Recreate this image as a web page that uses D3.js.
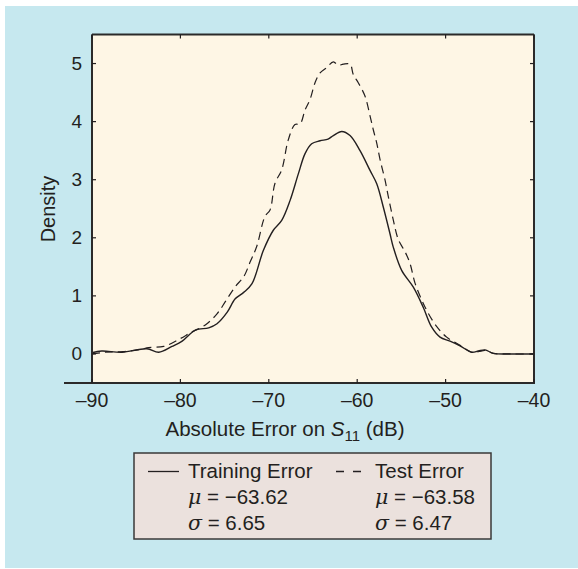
<!DOCTYPE html>
<html><head><meta charset="utf-8">
<script src="https://cdn.jsdelivr.net/npm/d3@7"></script>
<style>body{margin:0;background:#fff}svg{display:block}text{font-family:"Liberation Sans",Arial,sans-serif;fill:#231f20}</style>
</head><body>
<script>
const trainX = [-90,-88.9,-86.6,-83.8,-82.45,-80.95,-79.8,-78.3,-76.8,-75.86,-74.7,-73.8,-72.84,-71.9,-70.62,-69.49,-68.54,-67.6,-66.66,-65.9,-65.15,-64.2,-63.3,-62.7,-61.75,-60.81,-59.68,-58.55,-57.79,-57.05,-56.29,-55.92,-54.97,-53.65,-52.52,-51.57,-50.63,-49.5,-48.37,-47.05,-46.3,-45.54,-44.6,-42.7,-40];
const trainY = [0.02,0.05,0.03,0.09,0.03,0.13,0.22,0.41,0.45,0.52,0.72,0.95,1.06,1.21,1.78,2.13,2.30,2.64,3.10,3.45,3.62,3.67,3.70,3.76,3.83,3.76,3.50,3.16,2.93,2.53,2.07,1.84,1.44,1.15,0.80,0.46,0.29,0.22,0.14,0.03,0.05,0.07,0.01,0.0,0.0];
const testX = [-90,-88.5,-86.5,-84.5,-83.59,-81.89,-80.19,-78.69,-77.18,-75.86,-74.92,-73.79,-72.84,-72.09,-71.37,-70.43,-69.86,-69.3,-68.54,-67.79,-67.04,-66.47,-65.9,-65.34,-64.77,-64.2,-63.45,-62.7,-62.14,-61.57,-60.81,-60.44,-59.88,-59.12,-58.55,-58.18,-57.79,-57.42,-56.86,-56.48,-55.92,-55.35,-54.59,-54.03,-53.46,-52.7,-51.96,-51.0,-49.88,-48.37,-47.05,-46.3,-45.5,-44.6,-42.7,-40];
const testY = [0.0,0.03,0.04,0.08,0.11,0.13,0.25,0.38,0.50,0.69,0.90,1.16,1.33,1.59,1.85,2.37,2.48,2.94,3.17,3.69,3.95,3.96,4.20,4.38,4.67,4.84,4.93,5.03,4.97,4.99,4.99,4.81,4.67,4.44,4.10,3.86,3.63,3.35,3.00,2.71,2.31,1.97,1.76,1.56,1.22,0.93,0.70,0.47,0.29,0.15,0.03,0.04,0.06,0.01,0.0,0.0];
const xTicks = [-90,-80,-70,-60,-50,-40];
const yTicks = [0,1,2,3,4,5];
const legendNames = ["Training Error","Test Error"];
const legendMu = ["−63.62","−63.58"];
const legendSigma = ["6.65","6.47"];

const W=578,H=569;
const svg=d3.select("body").append("svg").attr("width",W).attr("height",H);
svg.append("rect").attr("x",5).attr("y",6).attr("width",573).attr("height",562).attr("fill","#c6e8ef");
const L=92,R=534,T=34.5,B=383;
const x=d3.scaleLinear().domain([-90,-40]).range([L,R]);
const y=d3.scaleLinear().domain([-0.5,5.5]).range([B,T]);
svg.append("rect").attr("x",L).attr("y",T).attr("width",R-L).attr("height",B-T).attr("fill","#fef6e5");
const ink="#231f20";
const line=d3.line().x(d=>x(d[0])).y(d=>y(d[1])).curve(d3.curveCatmullRom.alpha(0.5));
const trainPts=trainX.map((v,i)=>[v,trainY[i]]);
const testPts=testX.map((v,i)=>[v,testY[i]]);
svg.append("path").attr("d",line(testPts)).attr("fill","none").attr("stroke",ink).attr("stroke-width",1.2).attr("stroke-dasharray","8,5");
svg.append("path").attr("d",line(trainPts)).attr("fill","none").attr("stroke",ink).attr("stroke-width",1.4);
// frame
const fr=svg.append("g").attr("stroke","#2b2a2a").attr("stroke-width",2);
fr.append("line").attr("x1",L).attr("x2",R).attr("y1",T).attr("y2",T);
fr.append("line").attr("x1",R).attr("x2",R).attr("y1",T).attr("y2",B);
fr.append("line").attr("x1",L).attr("x2",L).attr("y1",T).attr("y2",B);
fr.append("line").attr("x1",64).attr("x2",R+1).attr("y1",B).attr("y2",B);
// ticks
const tk=svg.append("g").attr("stroke",ink).attr("stroke-width",1.2);
xTicks.forEach(t=>{
  tk.append("line").attr("x1",x(t)).attr("x2",x(t)).attr("y1",B).attr("y2",B-4);
  tk.append("line").attr("x1",x(t)).attr("x2",x(t)).attr("y1",T).attr("y2",T+4);
  svg.append("text").attr("x",x(t)).attr("y",407).attr("text-anchor","middle").attr("font-size",19.5).text(t<0?"–"+Math.abs(t):t);
});
yTicks.forEach(t=>{
  tk.append("line").attr("x1",L).attr("x2",L+4).attr("y1",y(t)).attr("y2",y(t));
  tk.append("line").attr("x1",R).attr("x2",R-4).attr("y1",y(t)).attr("y2",y(t));
  svg.append("text").attr("x",82).attr("y",y(t)+6.5).attr("text-anchor","end").attr("font-size",19).text(t);
});
// axis titles
const xt=svg.append("text").attr("x",285).attr("y",435.5).attr("text-anchor","middle").attr("font-size",20.5);
xt.append("tspan").text("Absolute Error on ");
xt.append("tspan").attr("font-style","italic").text("S");
xt.append("tspan").attr("font-size",15).attr("dy",5).text("11");
xt.append("tspan").attr("dy",-5).text(" (dB)");
svg.append("text").attr("transform","translate(55,209) rotate(-90)").attr("text-anchor","middle").attr("font-size",20).text("Density");
// legend
svg.append("rect").attr("x",134).attr("y",453).attr("width",357).attr("height",86).attr("fill","#ebe1dd").attr("stroke","#3a3838").attr("stroke-width",1.5);
svg.append("line").attr("x1",148).attr("x2",179).attr("y1",471.5).attr("y2",471.5).attr("stroke",ink).attr("stroke-width",1.3);
svg.append("line").attr("x1",336).attr("x2",361).attr("y1",471.5).attr("y2",471.5).attr("stroke",ink).attr("stroke-width",1.3).attr("stroke-dasharray","8,9");
const colX=[188,375];
legendNames.forEach((n,i)=>{
  svg.append("text").attr("x",colX[i]).attr("y",477.5).attr("font-size",20.5).text(n);
  const m=svg.append("text").attr("x",colX[i]).attr("y",504).attr("font-size",20.5);
  m.append("tspan").attr("font-style","italic").attr("font-family","DejaVu Serif, serif").text("μ");
  m.append("tspan").text(" = "+legendMu[i]);
  const s=svg.append("text").attr("x",colX[i]).attr("y",530).attr("font-size",20.5);
  s.append("tspan").attr("font-style","italic").attr("font-family","DejaVu Serif, serif").text("σ");
  s.append("tspan").text(" = "+legendSigma[i]);
});
</script>
</body></html>
